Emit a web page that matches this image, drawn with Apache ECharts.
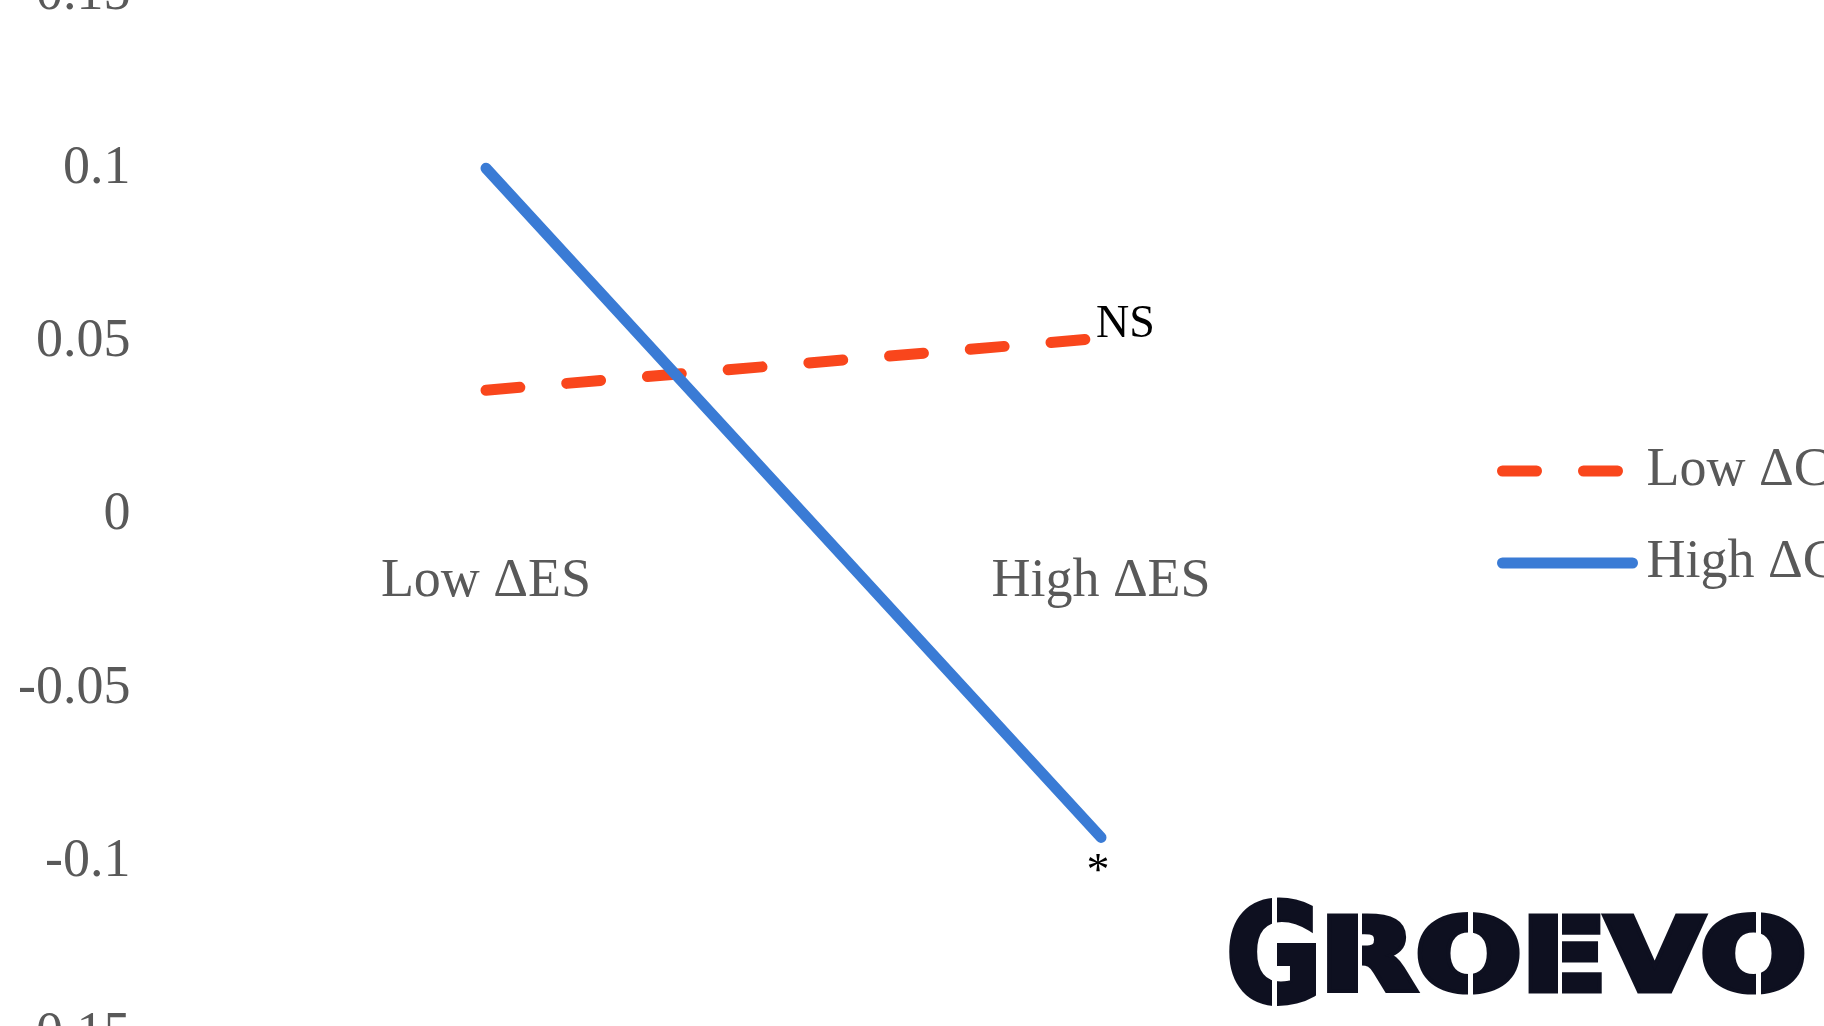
<!DOCTYPE html>
<html>
<head>
<meta charset="utf-8">
<script src="https://cdn.jsdelivr.net/npm/echarts@6/dist/echarts.min.js"></script>
<style>
html,body{margin:0;padding:0;background:#ffffff;}
#chart{width:1824px;height:1026px;}
</style>
</head>
<body>
<div id="chart"></div>
<script>
// ---- data ----
const categories = ['Low ΔES', 'High ΔES'];
const seriesNames = ['Low ΔC', 'High ΔC'];
const lowValues = [0.036, 0.051];
const highValues = [0.100, -0.093];
const yTicks = [-0.15, -0.1, -0.05, 0, 0.05, 0.1, 0.15];
const annotations = ['NS', '*'];

const FONT = '"Liberation Serif", "Times New Roman", serif';
const GREY = '#595959';
const RED = '#F9461C';
const BLUE = '#3A7BD5';
const LOGO = '#0e1020';

const GRID_TOP = -5, GRID_BOTTOM = -9, H = 1026;
const gridHeight = H - GRID_TOP - GRID_BOTTOM;
const yMin = yTicks[0], yMax = yTicks[yTicks.length - 1];
// distance from the grid's bottom edge up to the value 0 line
const zeroFromBottom = gridHeight * (0 - yMin) / (yMax - yMin);

const chart = echarts.init(document.getElementById('chart'), null, {renderer: 'canvas'});

const redLine = {color: RED, width: 11, type: [34, 47], cap: 'round'};
const blueLine = {color: BLUE, width: 11, type: 'solid', cap: 'round'};
const noSymbol = {color: 'rgba(0,0,0,0)', borderWidth: 0, opacity: 0};

const option = {
  animation: false,
  backgroundColor: '#ffffff',
  grid: {left: 178.5, right: 415.5, top: GRID_TOP, bottom: GRID_BOTTOM, containLabel: false, outerBoundsMode: 'none'},
  xAxis: {
    type: 'category',
    data: categories,
    boundaryGap: true,
    position: 'bottom',
    offset: -zeroFromBottom,
    axisLine: {show: false, onZero: false},
    axisTick: {show: false},
    splitLine: {show: false},
    axisLabel: {show: true, fontFamily: FONT, fontSize: 54, color: GREY, margin: 40, interval: 0}
  },
  yAxis: {
    type: 'value',
    min: yMin,
    max: yMax,
    interval: yTicks[1] - yTicks[0],
    axisLine: {show: false},
    axisTick: {show: false},
    splitLine: {show: false},
    axisLabel: {fontFamily: FONT, fontSize: 54, color: GREY, margin: 48,
      padding: [4, 0, 0, 0],
      showMinLabel: true, showMaxLabel: true,
      formatter: v => String(Math.round(v * 100) / 100)}
  },
  legend: {
    orient: 'vertical',
    left: 1492,
    top: 439,
    itemWidth: 130,
    itemHeight: 20,
    itemGap: 38,
    data: [
      {name: seriesNames[0], lineStyle: redLine, itemStyle: noSymbol},
      {name: seriesNames[1], lineStyle: blueLine, itemStyle: noSymbol}
    ],
    textStyle: {fontFamily: FONT, fontSize: 54, color: GREY, padding: [0, 0, 0, 9]}
  },
  series: [
    {
      name: seriesNames[0],
      type: 'line',
      data: lowValues,
      symbol: 'none',
      color: RED,
      z: 2,
      lineStyle: redLine,
      markPoint: {
        symbol: 'circle', symbolSize: 0,
        itemStyle: {color: RED},
        label: {show: true, position: 'right', distance: 0, offset: [-5, -13],
          fontFamily: FONT, fontSize: 46, color: '#000000', formatter: annotations[0]},
        data: [{coord: [categories[1], lowValues[1]]}]
      }
    },
    {
      name: seriesNames[1],
      type: 'line',
      data: highValues,
      symbol: 'none',
      color: BLUE,
      z: 3,
      lineStyle: blueLine,
      markPoint: {
        symbol: 'circle', symbolSize: 0,
        itemStyle: {color: BLUE},
        label: {show: true, position: 'inside', offset: [-3, 36],
          fontFamily: FONT, fontSize: 46, color: '#000000', formatter: annotations[1]},
        data: [{coord: [categories[1], highValues[1]]}]
      }
    }
  ],
  graphic: [
    {type: 'text', x: 1226, y: 966, scaleX: 0.86, z: 10,
      style: {text: 'G', font: 'bold 136px "DejaVu Sans"', fill: LOGO, stroke: LOGO, lineWidth: 6,
        verticalAlign: 'middle', align: 'left'}},
    {type: 'text', x: 1320, y: 964, scaleX: 1.244, z: 10,
      style: {text: 'ROEVO', font: 'bold 100px "DejaVu Sans"', fill: LOGO, stroke: LOGO, lineWidth: 7,
        verticalAlign: 'middle', align: 'left'}},
    // stencil gaps
    {type: 'rect', z: 11, shape: {x: 1272, y: 890, width: 5, height: 120}, style: {fill: '#ffffff'}},
    {type: 'rect', z: 11, shape: {x: 1358, y: 910, width: 4, height: 95}, style: {fill: '#ffffff'}},
    {type: 'rect', z: 11, shape: {x: 1468, y: 910, width: 5, height: 95}, style: {fill: '#ffffff'}},
    {type: 'rect', z: 11, shape: {x: 1558, y: 910, width: 4, height: 95}, style: {fill: '#ffffff'}},
    {type: 'rect', z: 11, shape: {x: 1756, y: 910, width: 5, height: 95}, style: {fill: '#ffffff'}}
  ]
};
chart.setOption(option);
</script>
</body>
</html>
